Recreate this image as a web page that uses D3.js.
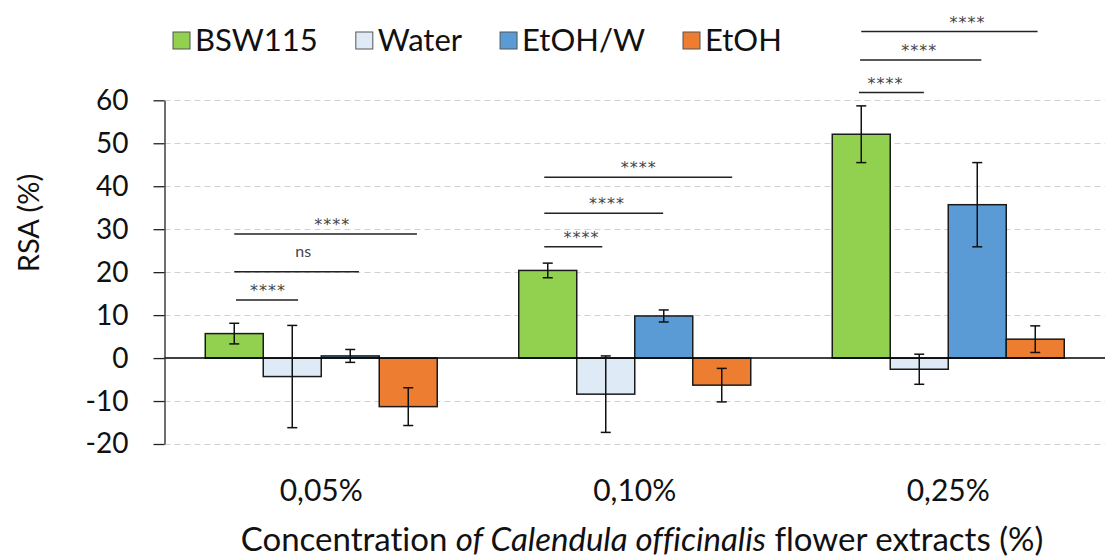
<!DOCTYPE html>
<html><head><meta charset="utf-8">
<script src="https://cdn.jsdelivr.net/npm/d3@7"></script>
<style>body{margin:0;background:#fff} svg{display:block;font-family:Lato, "Noto Sans", sans-serif;font-variant-ligatures:none;font-feature-settings:"liga" 0,"clig" 0}</style>
</head><body><svg id="chart" width="1107" height="558"></svg>
<script>
// ---- data ----
const categories = ["0,05%", "0,10%", "0,25%"];
const seriesNames = ["BSW115", "Water", "EtOH/W", "EtOH"];
const seriesColors = ["#92D050", "#DEEBF7", "#5B9BD5", "#ED7D31"];
const bsw115 = [5.7, 20.4, 52.1];
const water = [-4.3, -8.4, -2.6];
const etohW = [0.5, 9.8, 35.7];
const etoh = [-11.3, -6.3, 4.4];
const bsw115Err = [2.4, 1.7, 6.6];
const waterErr = [11.9, 8.9, 3.5];
const etohWErr = [1.5, 1.4, 9.8];
const etohErr = [4.4, 3.9, 3.1];
const yTicks = [-20, -10, 0, 10, 20, 30, 40, 50, 60];
// significance brackets (positions in bar-index units within a group)
const sigGroup = [0, 0, 0, 1, 1, 1, 2, 2, 2];
const sigY = [13.5, 20.1, 28.9, 25.9, 33.7, 42.1, 61.8, 69.4, 76.0];
const sigFrom = [0.03, 0.0, 0.0, -0.06, -0.06, -0.06, -0.04, -0.02, 0.0];
const sigTo = [1.1, 2.15, 3.15, 0.94, 1.99, 3.18, 1.08, 2.07, 3.04];
const sigLabelPos = [0.58, 1.19, 1.69, 0.58, 1.02, 1.57, 0.42, 1.0, 1.83];
const sigLabels = ["****", "ns", "****", "****", "****", "****", "****", "****", "****"];
const yTitle = "RSA (%)";

const seriesValues = [bsw115, water, etohW, etoh];
const seriesErrors = [bsw115Err, waterErr, etohWErr, etohErr];

// ---- layout ----
const svg = d3.select("#chart");
const left = 164.5, right = 1105;
const x0 = d3.scaleBand().domain(categories).range([left, right]).paddingInner(0.26).paddingOuter(0.13);
const x1 = d3.scaleBand().domain(seriesNames).range([0, x0.bandwidth()]);
const y = d3.scaleLinear().domain([-20, 60]).range([444, 100.3]);
const posX = (c, p) => x0(categories[c]) + x1.step() * (p + 0.5);

// gridlines
svg.append("g").selectAll("line").data(yTicks.filter(t => t !== 0)).join("line")
  .attr("x1", left).attr("x2", right)
  .attr("y1", d => Math.round(y(d)) + 0.5).attr("y2", d => Math.round(y(d)) + 0.5)
  .attr("stroke", "#d0d0d0").attr("stroke-width", 1).attr("stroke-dasharray", "6,4");

// bars
const rows = [];
categories.forEach((c, ci) => seriesNames.forEach((s, si) => {
  rows.push({c, ci, s, si, v: seriesValues[si][ci], e: seriesErrors[si][ci]});
}));
const g = svg.append("g");
g.selectAll("rect").data(rows).join("rect")
  .attr("x", d => x0(d.c) + x1(d.s))
  .attr("width", x1.bandwidth())
  .attr("y", d => y(Math.max(0, d.v)))
  .attr("height", d => Math.abs(y(d.v) - y(0)))
  .attr("fill", d => seriesColors[d.si])
  .attr("stroke", "#1a1a1a").attr("stroke-width", 1.5);

// zero line
svg.append("line").attr("x1", left).attr("x2", right)
  .attr("y1", y(0)).attr("y2", y(0)).attr("stroke", "#000").attr("stroke-width", 1.5);

// error bars
const eb = svg.append("g").attr("stroke", "#111").attr("stroke-width", 1.5);
rows.forEach(d => {
  const cx = x0(d.c) + x1(d.s) + x1.bandwidth() / 2;
  eb.append("line").attr("x1", cx).attr("x2", cx).attr("y1", y(d.v + d.e)).attr("y2", y(d.v - d.e));
  [d.v + d.e, d.v - d.e].forEach(v => {
    eb.append("line").attr("x1", cx - 5).attr("x2", cx + 5).attr("y1", y(v)).attr("y2", y(v));
  });
});

// y axis
const yAxis = svg.append("g").attr("transform", `translate(${left},0)`)
  .call(d3.axisLeft(y).tickValues(yTicks).tickFormat(d => String(d)).tickSize(11).tickSizeOuter(0).tickPadding(25));
yAxis.select(".domain").attr("stroke", "#222").attr("stroke-width", 1.3);
yAxis.selectAll(".tick line").attr("stroke", "#222").attr("stroke-width", 1.3);
yAxis.selectAll(".tick text").attr("font-size", 28).attr("fill", "#111").attr("font-family", "Lato");

// x labels
svg.append("g").selectAll("text").data(categories).join("text")
  .attr("x", d => x0(d) + x0.bandwidth() / 2).attr("y", 501)
  .attr("text-anchor", "middle").attr("font-size", 30).attr("fill", "#111").text(d => d);

// axis titles
svg.append("text").attr("transform", "translate(39,223) rotate(-90)")
  .attr("text-anchor", "middle").attr("font-size", 29).attr("fill", "#111").text(yTitle);
const xt = svg.append("text").attr("x", 642).attr("y", 551).attr("text-anchor", "middle")
  .attr("font-size", 33).attr("fill", "#111");
xt.append("tspan").text("Concentration ");
xt.append("tspan").attr("font-style", "italic").text("of Calendula officinalis");
xt.append("tspan").text(" flower extracts (%)");

// significance
const sg = svg.append("g");
sigY.forEach((v, i) => {
  sg.append("line").attr("x1", posX(sigGroup[i], sigFrom[i])).attr("x2", posX(sigGroup[i], sigTo[i]))
    .attr("y1", y(v)).attr("y2", y(v)).attr("stroke", "#222").attr("stroke-width", 1.5);
  const isNs = sigLabels[i] === "ns";
  sg.append("text").attr("x", posX(sigGroup[i], sigLabelPos[i])).attr("y", y(v) - (isNs ? 15 : 4))
    .attr("text-anchor", "middle").attr("font-size", 16)
    .attr("font-family", isNs ? "Lato" : "DejaVu Sans")
    .attr("letter-spacing", isNs ? 0 : 1).attr("fill", "#444").text(sigLabels[i]);
});

// legend
const lg = svg.append("g");
let lx = 173;
seriesNames.forEach((s, i) => {
  lg.append("rect").attr("x", lx).attr("y", 32).attr("width", 17).attr("height", 17)
    .attr("fill", seriesColors[i]).attr("stroke", "#555").attr("stroke-width", 1);
  const t = lg.append("text").attr("x", lx + 22).attr("y", 51).attr("font-size", 31).attr("fill", "#111").text(s);
  lx = lx + 22 + t.node().getComputedTextLength() + 38;
});
</script></body></html>
